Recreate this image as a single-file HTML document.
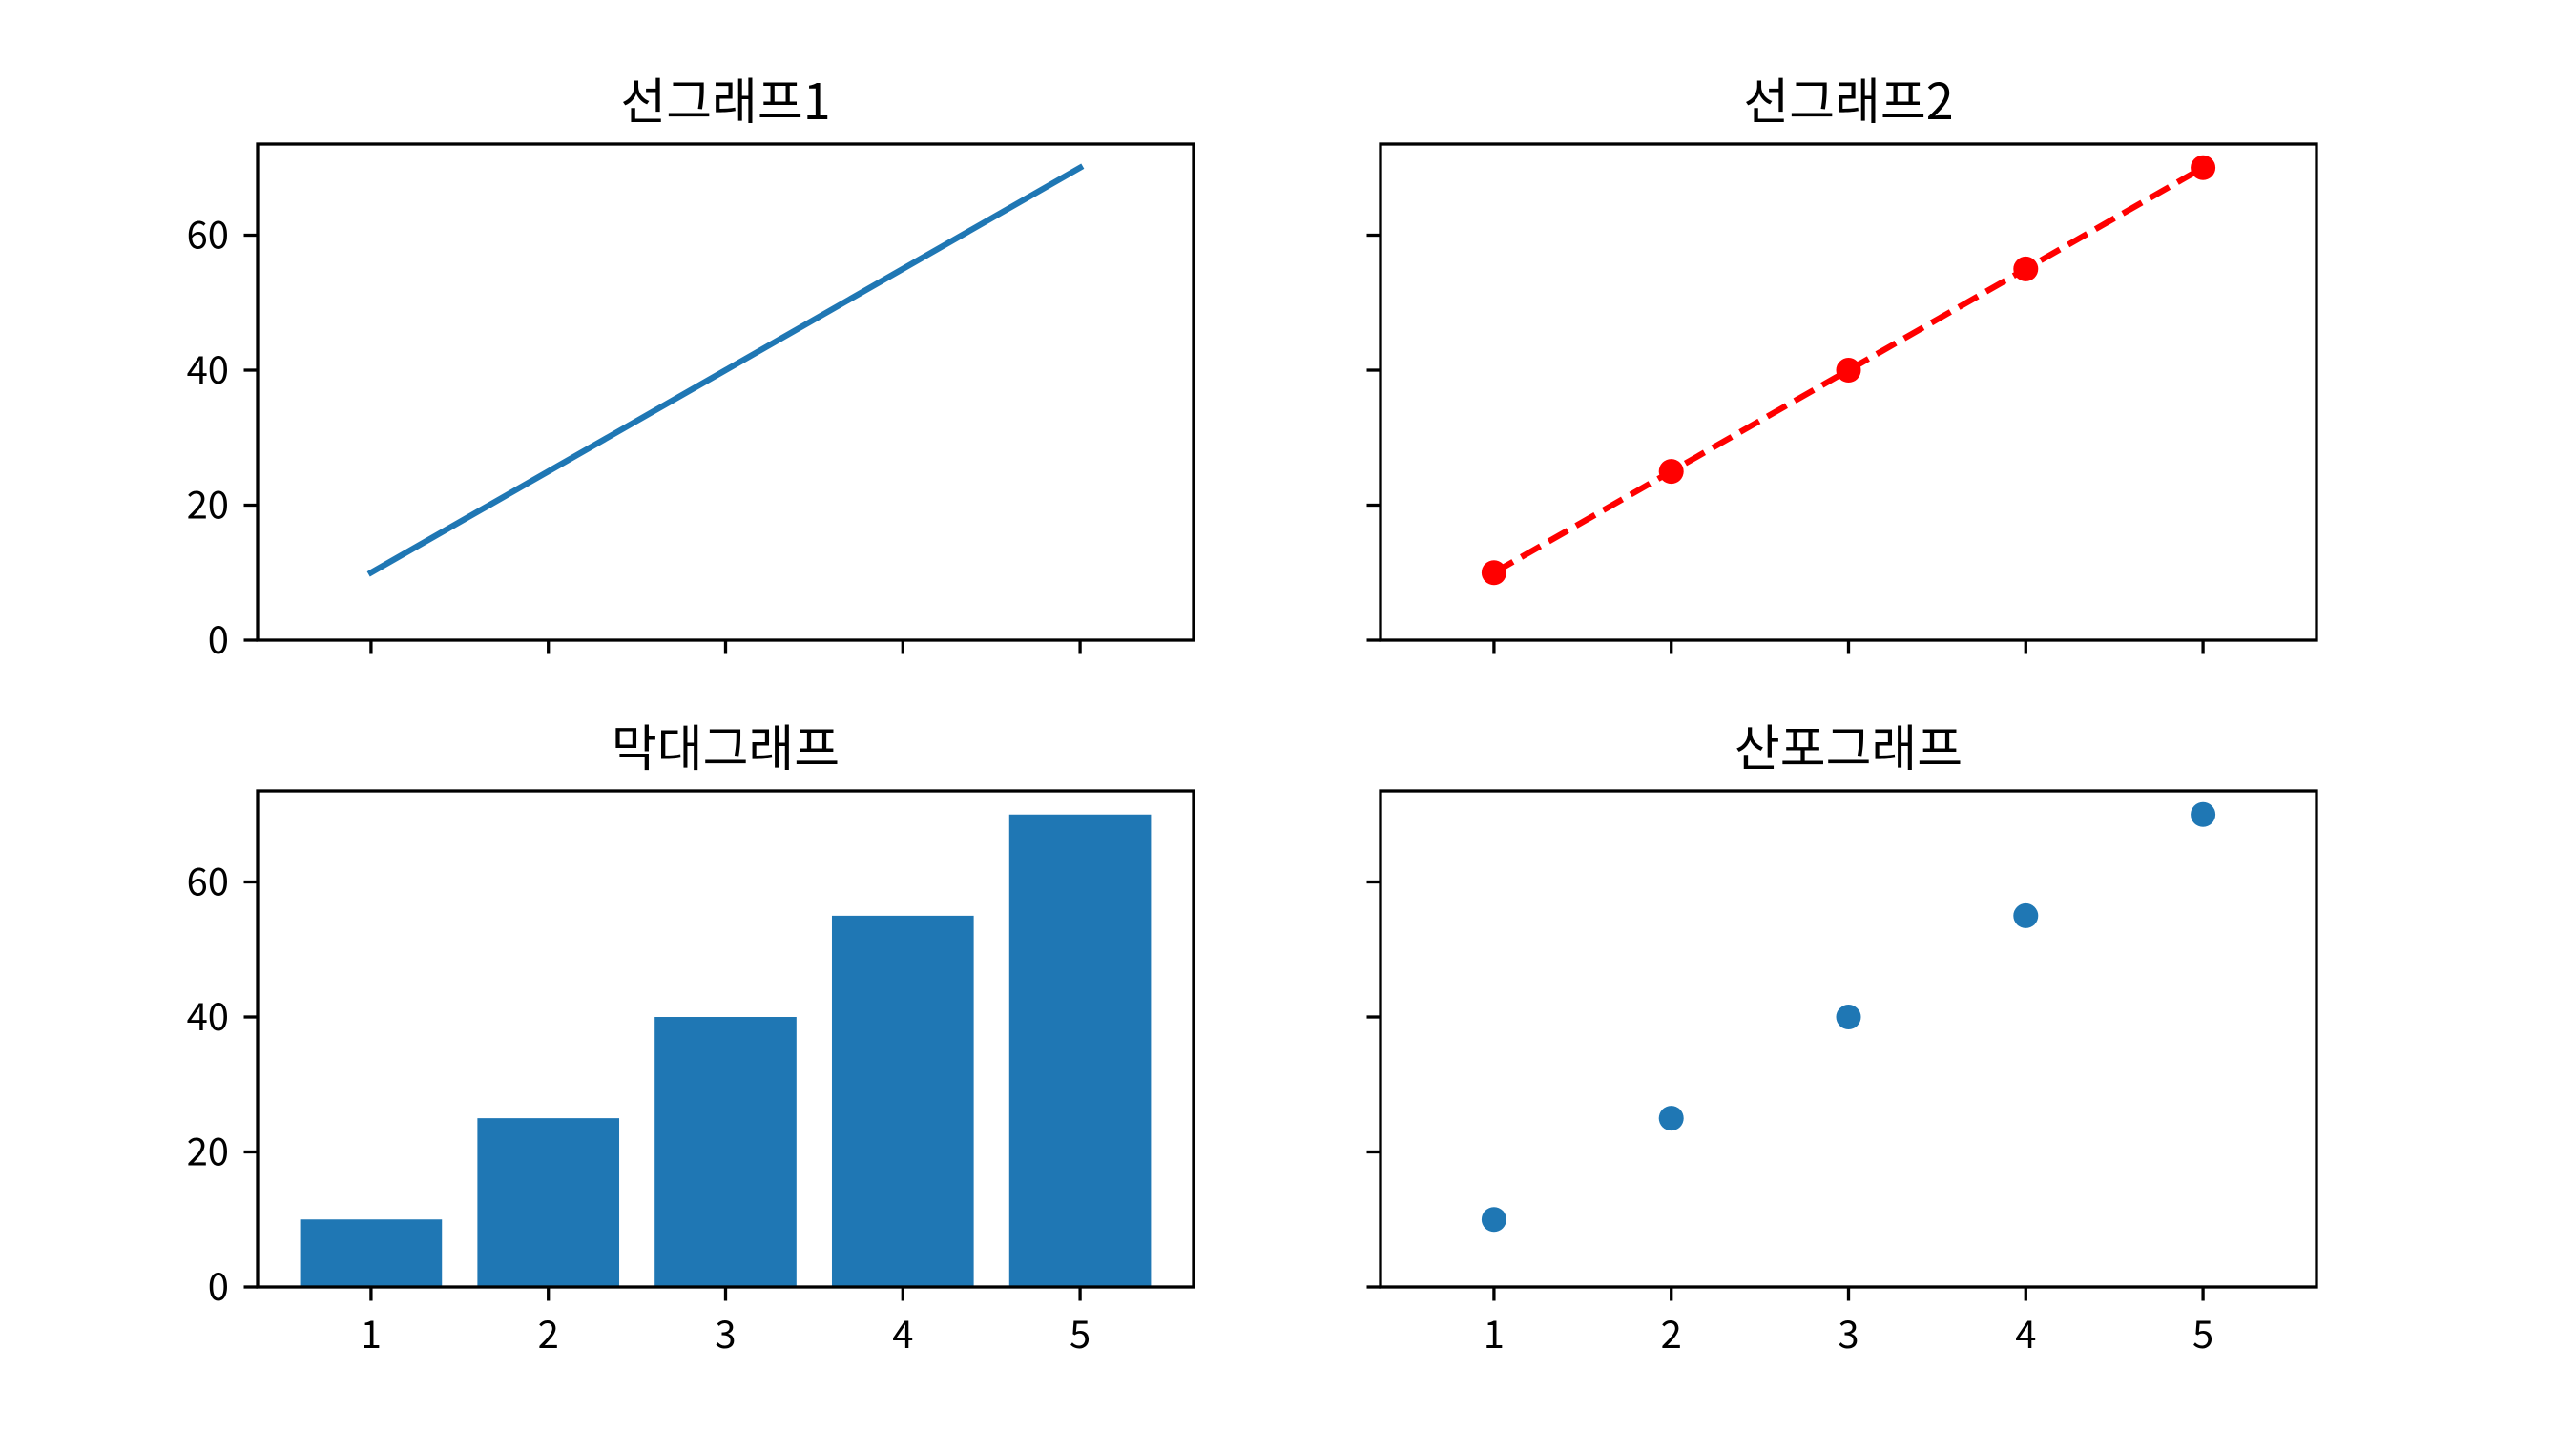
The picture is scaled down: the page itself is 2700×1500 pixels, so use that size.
<!DOCTYPE html>
<html><head><meta charset="utf-8">
<style>
html,body{margin:0;padding:0;background:#fff;}
svg{display:block;}
text{font-family:"Noto Sans CJK KR","Liberation Sans",sans-serif;fill:#000;}
</style></head>
<body>
<svg id="fig" width="2700" height="1500" viewBox="0 0 2700 1500" xmlns="http://www.w3.org/2000/svg"></svg>
<script>
const categories = [1, 2, 3, 4, 5];
const series1 = [10, 25, 40, 55, 70];
const series2 = [10, 25, 40, 55, 70];
const barValues = [10, 25, 40, 55, 70];
const scatterValues = [10, 25, 40, 55, 70];
const yTicks = [0, 20, 40, 60];
const xTickLabels = ["1", "2", "3", "4", "5"];
const titles = ["선그래프1", "선그래프2", "막대그래프", "산포그래프"];

const NS = "http://www.w3.org/2000/svg";
const svg = document.getElementById("fig");
function mk(tag, attrs, parent) {
  const e = document.createElementNS(NS, tag);
  for (const k in attrs) e.setAttribute(k, attrs[k]);
  (parent || svg).appendChild(e);
  return e;
}
const XMIN = 0.36, XMAX = 5.64, YMIN = 0, YMAX = 73.5;
const panels = [
  {x0: 270, x1: 1251, y0: 151, y1: 671, ylab: true, xlab: false},
  {x0: 1447, x1: 2428, y0: 151, y1: 671, ylab: false, xlab: false},
  {x0: 270, x1: 1251, y0: 829, y1: 1349, ylab: true, xlab: true},
  {x0: 1447, x1: 2428, y0: 829, y1: 1349, ylab: false, xlab: true}
];
const names = ["line-chart-1", "line-chart-2", "bar-chart", "scatter-chart"];

panels.forEach((p, i) => {
  const g = mk("g", {});
  
  
  p.sx = v => p.x0 + (v - XMIN) / (XMAX - XMIN) * (p.x1 - p.x0);
  p.sy = v => p.y1 - (v - YMIN) / (YMAX - YMIN) * (p.y1 - p.y0);
  p.g = g;
  const t = mk("text", {x: (p.x0 + p.x1) / 2, y: p.y0 - 26, "text-anchor": "middle", "font-size": 52}, g);
  t.textContent = titles[i];
  
  
});

(function () {
  const p = panels[0];
  const pts = categories.map((c, k) => p.sx(c) + "," + p.sy(series1[k])).join(" ");
  const l = mk("polyline", {points: pts, fill: "none", stroke: "#1f77b4", "stroke-width": 6.25, "stroke-linecap": "square"}, p.g);
  
  
})();
(function () {
  const p = panels[1];
  const pts = categories.map((c, k) => p.sx(c) + "," + p.sy(series2[k])).join(" ");
  const l = mk("polyline", {points: pts, fill: "none", stroke: "#ff0000", "stroke-width": 6.25, "stroke-dasharray": "23,10"}, p.g);
  
  
  categories.forEach((c, k) => {
    const m = mk("circle", {cx: p.sx(c), cy: p.sy(series2[k]), r: 13, fill: "#ff0000"}, p.g);
    
    
  });
})();
(function () {
  const p = panels[2];
  categories.forEach((c, k) => {
    const x = p.sx(c - 0.4), w = p.sx(c + 0.4) - x;
    const r = mk("rect", {x: x, y: p.sy(barValues[k]), width: w, height: p.sy(0) - p.sy(barValues[k]), fill: "#1f77b4"}, p.g);
    
    
  });
})();
(function () {
  const p = panels[3];
  categories.forEach((c, k) => {
    const m = mk("circle", {cx: p.sx(c), cy: p.sy(scatterValues[k]), r: 13, fill: "#1f77b4"}, p.g);
    
    
  });
})();

panels.forEach((p) => {
  const fr = mk("rect", {x: p.x0, y: p.y0, width: p.x1 - p.x0, height: p.y1 - p.y0, fill: "none", stroke: "#000", "stroke-width": 3.3}, p.g);
  
  
  yTicks.forEach(v => {
    const y = p.sy(v);
    const tk = mk("line", {x1: p.x0 - 14.5, x2: p.x0, y1: y, y2: y, stroke: "#000", "stroke-width": 3.3}, p.g);
    
    
    if (p.ylab) {
      const t = mk("text", {x: p.x0 - 30, y: y + 14, "text-anchor": "end", "font-size": 40}, p.g);
      t.textContent = String(v);
      
      
    }
  });
  categories.forEach((c, k) => {
    const x = p.sx(c);
    const tk = mk("line", {x1: x, x2: x, y1: p.y1, y2: p.y1 + 14.5, stroke: "#000", "stroke-width": 3.3}, p.g);
    
    
    if (p.xlab) {
      const t = mk("text", {x: x, y: p.y1 + 64, "text-anchor": "middle", "font-size": 40}, p.g);
      t.textContent = xTickLabels[k];
      
      
    }
  });
});
</script>
</body></html>
